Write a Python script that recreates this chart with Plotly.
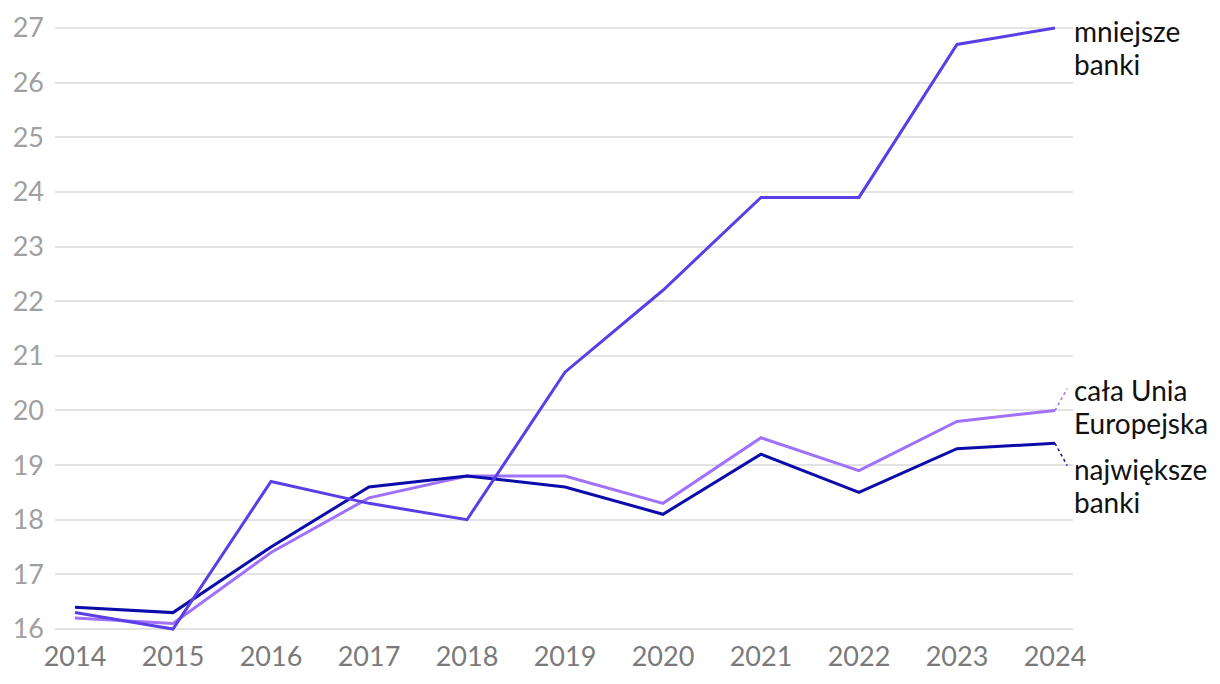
import plotly.graph_objects as go

years = [2014, 2015, 2016, 2017, 2018, 2019, 2020, 2021, 2022, 2023, 2024]
mniejsze = [16.3, 16.0, 18.7, 18.3, 18.0, 20.7, 22.2, 23.9, 23.9, 26.7, 27.0]
cala_ue = [16.2, 16.1, 17.4, 18.4, 18.8, 18.8, 18.3, 19.5, 18.9, 19.8, 20.0]
najwieksze = [16.4, 16.3, 17.5, 18.6, 18.8, 18.6, 18.1, 19.2, 18.5, 19.3, 19.4]

label_lines = [["mniejsze", "banki"], ["cała Unia", "Europejska"], ["największe", "banki"]]
colors = ["#5b3fe6", "#a071fa", "#0c0cab"]
series = [mniejsze, cala_ue, najwieksze]
y_ticks = list(range(16, 28))
x_ticks = years

FONT = "Lato, 'Open Sans', sans-serif"

fig = go.Figure()
# draw order: EU light first, then largest, then smaller banks on top
for idx in [1, 2, 0]:
    fig.add_trace(go.Scatter(x=years, y=series[idx], mode="lines",
                             line=dict(color=colors[idx], width=3),
                             hoverinfo="skip", showlegend=False))

# labels at right (first-line anchor values, second line 33px below)
label_y = [26.95, 20.37, 18.92]
for i in range(3):
    for j, txt in enumerate(label_lines[i]):
        fig.add_annotation(x=years[-1], y=label_y[i], xref="x", yref="y",
                           text=txt, showarrow=False, xanchor="left", yanchor="middle",
                           yshift=-33 * j, xshift=17, align="left",
                           font=dict(family=FONT, size=28, color="#111111"))

# dotted connectors for EU and largest
conn_targets = [None, 20.4, 18.99]
for i in [1, 2]:
    fig.add_shape(type="line", xref="x", yref="y",
                  x0=years[-1], y0=series[i][-1], x1=years[-1] + 0.125, y1=conn_targets[i],
                  line=dict(color=colors[i], width=1.5, dash="dot"))

# page body has an 8px margin, so the figure is offset accordingly
fig.update_layout(
    width=1220, height=684,
    paper_bgcolor="white", plot_bgcolor="white",
    margin=dict(l=47, r=155, t=12, b=57),
    font=dict(family=FONT),
    xaxis=dict(range=[2013.796, 2024.184], tickvals=x_ticks, ticktext=[str(v) for v in x_ticks],
               showgrid=False, zeroline=False, showline=False, ticks="", automargin=False,
               ticklabelstandoff=3,
               tickfont=dict(family=FONT, size=27, color="#7a7a7a")),
    yaxis=dict(range=[15.89, 27.147], tickvals=y_ticks, showgrid=True, gridcolor="#e3e3e3",
               gridwidth=1.5, zeroline=False, showline=False, ticks="", automargin=False,
               ticklabelstandoff=10,
               tickfont=dict(family=FONT, size=27, color="#a0a0a0")),
)

fig.write_html("out.html")
